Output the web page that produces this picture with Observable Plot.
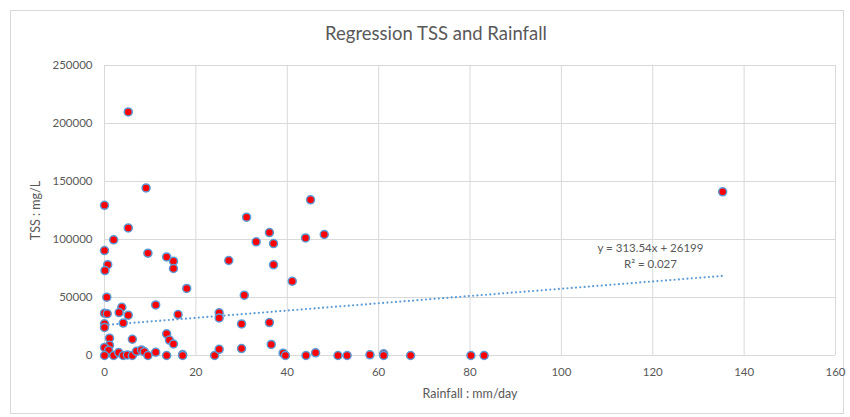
<!DOCTYPE html>
<html>
<head>
<meta charset="utf-8">
<script src="https://cdn.jsdelivr.net/npm/d3@7"></script>
<script src="https://cdn.jsdelivr.net/npm/@observablehq/plot@0.6"></script>
<style>
  html, body { margin: 0; padding: 0; background: #fff; }
  #wrap { position: relative; width: 850px; height: 417px; overflow: hidden; font-family: Lato, "Open Sans", sans-serif; }
  #frame { position: absolute; left: 10px; top: 10px; width: 834px; height: 404px; border: 1px solid #d9d9d9; box-sizing: border-box; }
  #title { position: absolute; left: 0; top: 23px; width: 872px; text-align: center; font-size: 18.5px; line-height: 20px; color: #595959; }
  #chart { position: absolute; left: 0; top: 50px; }
  #chart g[aria-label="x-axis label"] text, #chart g[aria-label="y-axis label"] text { font-size: 12.5px; }
</style>
</head>
<body>
<div id="wrap">
  <div id="frame"></div>
  <div id="title">Regression TSS and Rainfall</div>
  <div id="chart"></div>
</div>
<script>
const rainfall = [5.2, 9.1, 0, 5.2, 2, 0, 9.5, 13.6, 15.1, 0.7, 15.1, 0.1, 18, 0.5, 11.2, 3.8, 0, 0.6, 3.2, 5.2,
  16.1, 4.1, 0, 0, 13.6, 1.1, 6.1, 14.2, 15.1, 1.1, 0, 0.9, 0, 2, 3.1, 4.1, 5.0, 6.1, 7.0, 8.1,
  8.7, 9.5, 11.2, 13.6, 17.1, 17.1, 24.1, 25.1, 45.1, 31.1, 36.1, 48.1, 44.0, 33.2, 37.0, 27.2, 37.0, 41.1, 30.6, 25.1,
  25.1, 30.0, 36.1, 36.5, 30.0, 39.1, 39.6, 44.1, 46.2, 51.1, 53.1, 58.1, 61.1, 61.1, 67.0, 80.2, 83.1, 135.3];
const tss = [210000, 144500, 129500, 110000, 99700, 90500, 88200, 85000, 81300, 78300, 75000, 73200, 57800, 50300, 43600, 41600, 36500, 36000, 37000, 34800,
  35300, 28000, 27300, 24200, 18700, 14900, 14000, 13300, 9900, 8900, 7000, 4600, 0, 0, 2500, 0, 500, 0, 3600, 4800,
  3300, 0, 2800, 0, 800, 0, 0, 5300, 134200, 119200, 106000, 104300, 101400, 98000, 96500, 81900, 78200, 64000, 52000, 36800,
  32400, 27200, 28400, 9500, 6000, 2000, 0, 0, 2300, 0, 0, 600, 1500, 0, 0, 0, 0, 141100];

const xTicks = [0, 20, 40, 60, 80, 100, 120, 140, 160];
const yTicks = [0, 50000, 100000, 150000, 200000, 250000];

// Trendline as stated in the chart
const slope = 313.54;
const intercept = 26199;
const eqLines = ["y = 313.54x + 26199", "R² = 0.027"];
const eqAnchor = [{x: 119.5, y: 86500}];

const points = rainfall.map((r, i) => ({rain: r, tss: tss[i]}));
const xMin = d3.min(rainfall), xMax = d3.max(rainfall);
const trend = [xMin, xMax].map(x => ({rain: x, tss: slope * x + intercept}));

const chart = Plot.plot({
  width: 850,
  height: 367,
  marginTop: 15,
  marginBottom: 62,
  marginLeft: 104,
  marginRight: 15,
  style: {fontFamily: "Lato, 'Open Sans', sans-serif", fontSize: "11.5px", color: "#595959", background: "transparent"},
  x: {domain: [0, 160]},
  y: {domain: [0, 250000]},
  marks: [
    Plot.gridX(xTicks, {stroke: "#d9d9d9", strokeOpacity: 1, strokeWidth: 1}),
    Plot.gridY(yTicks, {stroke: "#d9d9d9", strokeOpacity: 1, strokeWidth: 1}),
    Plot.axisX(xTicks, {tickSize: 0, tickPadding: 12, tickFormat: d => String(d), label: "Rainfall : mm/day", labelAnchor: "center", labelOffset: 42, labelArrow: "none", fontSize: 11.5}),
    Plot.axisY(yTicks, {tickSize: 0, tickPadding: 12, tickFormat: d => String(d), label: "TSS : mg/L", labelAnchor: "center", labelOffset: 73, labelArrow: "none", fontSize: 11.5}),
    Plot.line(trend, {x: "rain", y: "tss", stroke: "#5B9BD5", strokeWidth: 2.2, strokeDasharray: "0 4.3", strokeLinecap: "round"}),
    Plot.dot(points, {x: "rain", y: "tss", r: 4, fill: "#FF0000", stroke: "#5B9BD5", strokeWidth: 1.5}),
    Plot.text(eqAnchor, {x: "x", y: "y", text: () => eqLines.join("\n"), fill: "#595959", fontSize: 11.5, lineHeight: 1.35, lineAnchor: "middle", textAnchor: "middle"})
  ]
});
document.getElementById("chart").appendChild(chart);
</script>
</body>
</html>
